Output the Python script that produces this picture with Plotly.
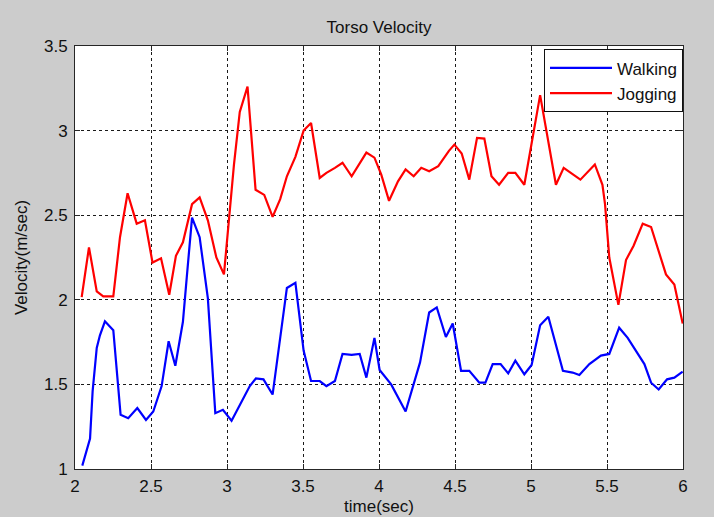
import plotly.graph_objects as go

# Torso velocity samples (time in seconds, velocity in m/s)
walk_t = [2.048, 2.099, 2.116, 2.143, 2.164, 2.197, 2.252, 2.30, 2.35, 2.41,
          2.467, 2.515, 2.57, 2.616, 2.66, 2.71, 2.735, 2.77, 2.82, 2.874,
          2.923, 2.973, 3.03, 3.095, 3.15, 3.19, 3.24, 3.30, 3.394, 3.45,
          3.504, 3.553, 3.61, 3.654, 3.71, 3.76, 3.82, 3.873, 3.917, 3.97,
          4.004, 4.08, 4.175, 4.27, 4.33, 4.38, 4.44, 4.485, 4.54, 4.594,
          4.66, 4.70, 4.748, 4.80, 4.85, 4.897, 4.956, 5.004, 5.06, 5.114,
          5.21, 5.274, 5.318, 5.384, 5.46, 5.515, 5.58, 5.636, 5.69, 5.746,
          5.79, 5.84, 5.895, 5.943, 5.998]
walk_v = [1.02, 1.18, 1.46, 1.715, 1.79, 1.873, 1.82, 1.32, 1.30, 1.36,
          1.29, 1.34, 1.49, 1.755, 1.61, 1.87, 2.13, 2.486, 2.37, 2.01,
          1.33, 1.35, 1.285, 1.40, 1.49, 1.535, 1.53, 1.44, 2.07, 2.10,
          1.70, 1.52, 1.52, 1.49, 1.52, 1.68, 1.675, 1.68, 1.54, 1.775,
          1.585, 1.50, 1.34, 1.63, 1.925, 1.955, 1.78, 1.86, 1.58, 1.58,
          1.51, 1.51, 1.62, 1.62, 1.565, 1.64, 1.56, 1.615, 1.85, 1.90,
          1.58, 1.57, 1.556, 1.62, 1.67, 1.68, 1.835, 1.775, 1.70, 1.62,
          1.51, 1.47, 1.53, 1.54, 1.575]

jog_t = [2.044, 2.092, 2.143, 2.186, 2.252, 2.296, 2.346, 2.406, 2.46, 2.51,
         2.566, 2.62, 2.664, 2.71, 2.77, 2.82, 2.874, 2.93, 2.98, 3.024,
         3.046, 3.084, 3.135, 3.188, 3.245, 3.30, 3.35, 3.394, 3.45, 3.504,
         3.553, 3.61, 3.654, 3.71, 3.76, 3.82, 3.917, 3.97, 4.015, 4.066,
         4.125, 4.175, 4.228, 4.278, 4.33, 4.39, 4.46, 4.496, 4.544, 4.594,
         4.645, 4.693, 4.74, 4.79, 4.85, 4.897, 4.956, 5.06, 5.164,
         5.215, 5.263, 5.325, 5.42, 5.47, 5.487, 5.515, 5.575, 5.625, 5.675,
         5.735, 5.79, 5.888, 5.943, 5.998]
jog_v = [2.016, 2.31, 2.05, 2.02, 2.02, 2.37, 2.63, 2.45, 2.47, 2.22,
         2.245, 2.03, 2.26, 2.34, 2.565, 2.605, 2.47, 2.25, 2.15, 2.565,
         2.80, 3.11, 3.26, 2.65, 2.62, 2.49, 2.595, 2.73, 2.845, 3.0,
         3.045, 2.72, 2.75, 2.78, 2.81, 2.73, 2.87, 2.84, 2.74, 2.585,
         2.70, 2.77, 2.73, 2.78, 2.76, 2.79, 2.88, 2.917, 2.865, 2.71,
         2.957, 2.953, 2.73, 2.68, 2.75, 2.75, 2.68, 3.21, 2.68,
         2.78, 2.75, 2.71, 2.80, 2.68, 2.565, 2.25, 1.97, 2.235, 2.32,
         2.45, 2.43, 2.15, 2.09, 1.86]

x_ticks = [2, 2.5, 3, 3.5, 4, 4.5, 5, 5.5, 6]
y_ticks = [1, 1.5, 2, 2.5, 3, 3.5]

FONT = "Liberation Sans, Arial, sans-serif"
FS = 17
TXT = "#111111"

fig = go.Figure()
fig.add_trace(go.Scatter(x=walk_t, y=walk_v, mode="lines", name="Walking",
                         line=dict(color="#0000ff", width=2.2)))
fig.add_trace(go.Scatter(x=jog_t, y=jog_v, mode="lines", name="Jogging",
                         line=dict(color="#ff0000", width=2.2)))

axis_common = dict(
    showline=True, linecolor="#262626", linewidth=1, mirror="ticks",
    ticks="inside", ticklen=5, tickcolor="#262626",
    showgrid=True, gridcolor="#1a1a1a", gridwidth=1, griddash="3px,3px",
    zeroline=False, automargin=False,
    tickfont=dict(family=FONT, size=FS, color=TXT),
)

fig.update_xaxes(range=[2, 6], tickvals=x_ticks,
                 ticktext=[f"{v:g}" for v in x_ticks],
                 ticklabelstandoff=2,
                 title=dict(text="time(sec)", standoff=4,
                            font=dict(family=FONT, size=FS, color=TXT)),
                 **axis_common)
fig.update_yaxes(range=[1, 3.5], tickvals=y_ticks,
                 ticktext=[f"{v:g}" for v in y_ticks],
                 ticklabelstandoff=3,
                 title=dict(text="Velocity(m/sec)", standoff=12,
                            font=dict(family=FONT, size=FS, color=TXT)),
                 **axis_common)

fig.update_layout(
    width=714, height=517,
    margin=dict(l=75, r=31, t=46, b=48, autoexpand=False),
    paper_bgcolor="#cccccc", plot_bgcolor="#ffffff",
    title=dict(text="Torso Velocity", x=0.5, xref="paper", xanchor="center",
               y=1, yref="paper", yanchor="bottom", pad=dict(b=13),
               font=dict(family=FONT, size=FS, color=TXT)),
    legend=dict(x=1, xanchor="right", y=0.992, yanchor="top",
                bgcolor="#ffffff", bordercolor="#111111", borderwidth=1,
                font=dict(family=FONT, size=FS, color=TXT),
                itemwidth=62, tracegroupgap=0),
    showlegend=True,
)

fig.write_html("out.html")
